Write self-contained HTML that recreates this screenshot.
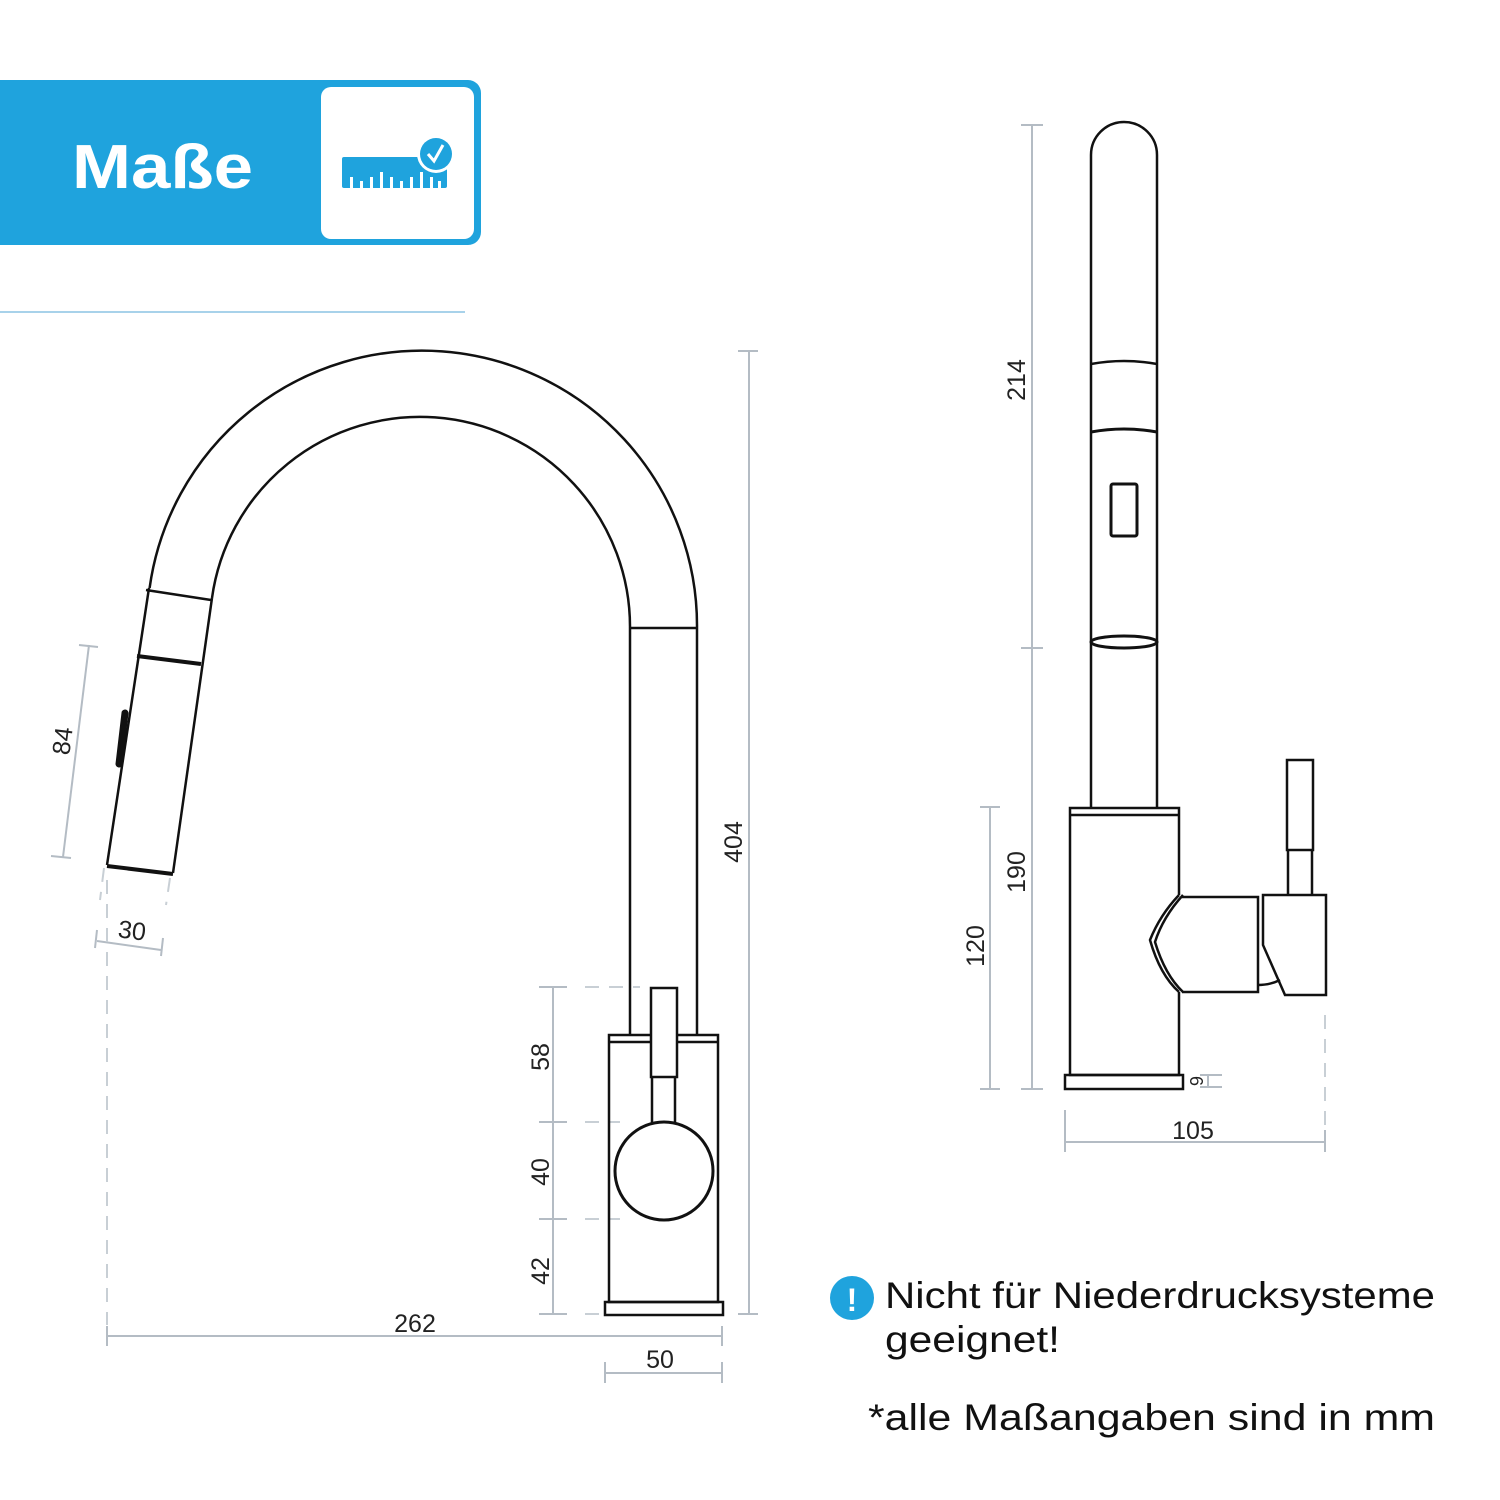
<!DOCTYPE html>
<html><head><meta charset="utf-8"><style>
html,body{margin:0;padding:0;background:#fff;}
svg{display:block;}
text{font-family:"Liberation Sans",sans-serif;}
</style></head><body>
<svg width="1500" height="1500" viewBox="0 0 1500 1500" xmlns="http://www.w3.org/2000/svg">
<rect width="1500" height="1500" fill="#fff"/>
<!-- header -->
<path d="M0,80 H468 A13,13 0 0 1 481,93 V232 A13,13 0 0 1 468,245 H0 Z" fill="#1fa3dd"/>
<rect x="321" y="87" width="153" height="152" rx="10" fill="#fff"/>
<text x="72" y="188" font-size="62" font-weight="bold" fill="#fff" textLength="181" lengthAdjust="spacingAndGlyphs">Maße</text>
<rect x="342" y="157" width="105" height="31" rx="2" fill="#1fa3dd"/>
<g fill="#fff">
<rect x="350" y="177" width="3" height="11"/><rect x="360" y="181" width="3" height="7"/><rect x="370" y="177" width="3" height="11"/><rect x="380" y="172" width="3" height="16"/><rect x="390" y="177" width="3" height="11"/><rect x="400" y="181" width="3" height="7"/><rect x="410" y="177" width="3" height="11"/><rect x="420" y="172" width="3" height="16"/><rect x="430" y="177" width="3" height="11"/><rect x="438" y="181" width="3" height="7"/>
</g>
<circle cx="436" cy="154" r="19" fill="#fff"/>
<circle cx="436" cy="154" r="16" fill="#1fa3dd"/>
<path d="M428,154 L434,161 L443,145" stroke="#fff" stroke-width="3" fill="none"/>
<line x1="0" y1="312" x2="465" y2="312" stroke="#8cc4e3" stroke-width="1.5"/>

<!-- dimension lines -->
<g stroke="#b4bcc4" stroke-width="2" fill="none">
<line x1="749" y1="351" x2="749" y2="1314"/><line x1="738" y1="351" x2="758" y2="351"/><line x1="738" y1="1314" x2="758" y2="1314"/>
<line x1="553" y1="987" x2="553" y2="1314"/>
<line x1="539" y1="987" x2="567" y2="987"/><line x1="539" y1="1122" x2="567" y2="1122"/><line x1="539" y1="1219" x2="567" y2="1219"/><line x1="539" y1="1314" x2="567" y2="1314"/>
<line x1="107" y1="1336" x2="722" y2="1336"/><line x1="107" y1="1326" x2="107" y2="1346"/><line x1="722" y1="1326" x2="722" y2="1346"/>
<line x1="605" y1="1373" x2="722" y2="1373"/><line x1="605" y1="1362" x2="605" y2="1383"/><line x1="722" y1="1362" x2="722" y2="1383"/>
<line x1="89" y1="645" x2="63" y2="857"/><line x1="79" y1="645" x2="98" y2="647"/><line x1="51" y1="856" x2="71" y2="858"/>
<line x1="97" y1="941" x2="161" y2="950"/><line x1="97" y1="930" x2="95" y2="948"/><line x1="163" y1="938" x2="161" y2="956"/>
<line x1="1032" y1="125" x2="1032" y2="1089"/><line x1="1021" y1="125" x2="1043" y2="125"/><line x1="1021" y1="648" x2="1043" y2="648"/><line x1="1021" y1="1089" x2="1043" y2="1089"/>
<line x1="990" y1="807" x2="990" y2="1089"/><line x1="980" y1="807" x2="1000" y2="807"/><line x1="980" y1="1089" x2="1000" y2="1089"/>
<line x1="1065" y1="1142" x2="1325" y2="1142"/><line x1="1065" y1="1110" x2="1065" y2="1152"/><line x1="1325" y1="1130" x2="1325" y2="1152"/>
<line x1="1208" y1="1075" x2="1208" y2="1087"/><line x1="1200" y1="1075" x2="1222" y2="1075"/><line x1="1200" y1="1087" x2="1222" y2="1087"/>
</g>
<g stroke="#c8cfd5" stroke-width="2" stroke-dasharray="14,10" fill="none">
<line x1="107" y1="880" x2="107" y2="1325"/>
<line x1="585" y1="987" x2="640" y2="987"/><line x1="585" y1="1122" x2="620" y2="1122"/><line x1="585" y1="1219" x2="620" y2="1219"/><line x1="585" y1="1314" x2="605" y2="1314"/>
<line x1="1325" y1="1015" x2="1325" y2="1125"/>
<line x1="104" y1="868" x2="100" y2="900"/><line x1="170" y1="878" x2="166" y2="905"/>
</g>
<g fill="#222" font-size="25">
<text transform="translate(742,842) rotate(-90)" text-anchor="middle">404</text>
<text transform="translate(549,1057) rotate(-90)" text-anchor="middle">58</text>
<text transform="translate(549,1172) rotate(-90)" text-anchor="middle">40</text>
<text transform="translate(549,1271) rotate(-90)" text-anchor="middle">42</text>
<text x="415" y="1332" text-anchor="middle">262</text>
<text x="660" y="1368" text-anchor="middle">50</text>
<text transform="translate(71,742) rotate(-83)" text-anchor="middle">84</text>
<text transform="translate(131,939) rotate(7)" text-anchor="middle">30</text>
<text transform="translate(1025,380) rotate(-90)" text-anchor="middle">214</text>
<text transform="translate(1025,872) rotate(-90)" text-anchor="middle">190</text>
<text transform="translate(984,946) rotate(-90)" text-anchor="middle">120</text>
<text x="1193" y="1139" text-anchor="middle">105</text>
<text transform="translate(1190,1081) rotate(90)" text-anchor="middle" font-size="18">6</text>
</g>

<!-- left faucet -->
<g stroke="#111" stroke-width="2.5" fill="none">
<path d="M149.6,588 A275,275 0 0 1 697,628 V1035"/>
<path d="M212,598 A210,210 0 0 1 630,628 V1035"/>
<line x1="631" y1="628" x2="697" y2="628"/>
<line x1="149" y1="588" x2="107" y2="865"/>
<line x1="212" y1="598" x2="173" y2="873"/>
<line x1="146" y1="590" x2="211" y2="600"/>
<line x1="137" y1="656" x2="201" y2="664" stroke-width="4"/>
<line x1="107" y1="866" x2="173" y2="874" stroke-width="4"/>
<line x1="125" y1="713" x2="119" y2="764" stroke-width="7" stroke-linecap="round"/>
<rect x="609" y="1035" width="109" height="267"/>
<line x1="609" y1="1042" x2="718" y2="1042"/>
<rect x="605" y="1302" width="118" height="13"/>
<rect x="651" y="988" width="26" height="89" fill="#fff"/>
<path d="M652,1077 V1125 M675,1077 V1125"/>
<circle cx="664" cy="1171" r="49" fill="#fff" stroke-width="3"/>
</g>

<!-- right faucet -->
<g stroke="#111" stroke-width="2.5" fill="none">
<path d="M1091,808 V155 A33,33 0 0 1 1157,155 V808"/>
<path d="M1091,364 Q1124,358 1157,364"/>
<path d="M1091,432 Q1124,426 1157,432" stroke-width="3"/>
<rect x="1111" y="484" width="26" height="52" rx="2" stroke-width="3"/>
<ellipse cx="1124" cy="642" rx="33" ry="6" stroke-width="3"/>
<path d="M1179,895 V808 H1070 V1075 H1179 V992"/>
<line x1="1070" y1="815" x2="1179" y2="815"/>
<rect x="1065" y="1075" width="118" height="14"/>
<path d="M1179,895 Q1160,915 1150,940 Q1160,975 1179,992"/>
<path d="M1183,895 Q1163,917 1155,942 Q1165,975 1183,992"/>
<path d="M1182,897 H1258 V992 H1182"/>
<path d="M1263,895 H1326 V995 H1285 L1263,945 Z" fill="#fff"/>
<rect x="1287" y="760" width="26" height="90"/>
<path d="M1288,850 V895 M1312,850 V895"/>
<path d="M1258,985 Q1270,985 1280,980"/>
</g>

<!-- notes -->
<circle cx="852" cy="1298" r="22" fill="#1fa3dd"/>
<text x="852" y="1311" font-size="32" font-weight="bold" fill="#fff" text-anchor="middle">!</text>
<text x="885" y="1308" font-size="37" fill="#111" textLength="550" lengthAdjust="spacingAndGlyphs">Nicht für Niederdrucksysteme</text>
<text x="885" y="1352" font-size="37" fill="#111" textLength="175" lengthAdjust="spacingAndGlyphs">geeignet!</text>
<text x="868" y="1430" font-size="37" fill="#111" textLength="567" lengthAdjust="spacingAndGlyphs">*alle Maßangaben sind in mm</text>
</svg>
</body></html>
